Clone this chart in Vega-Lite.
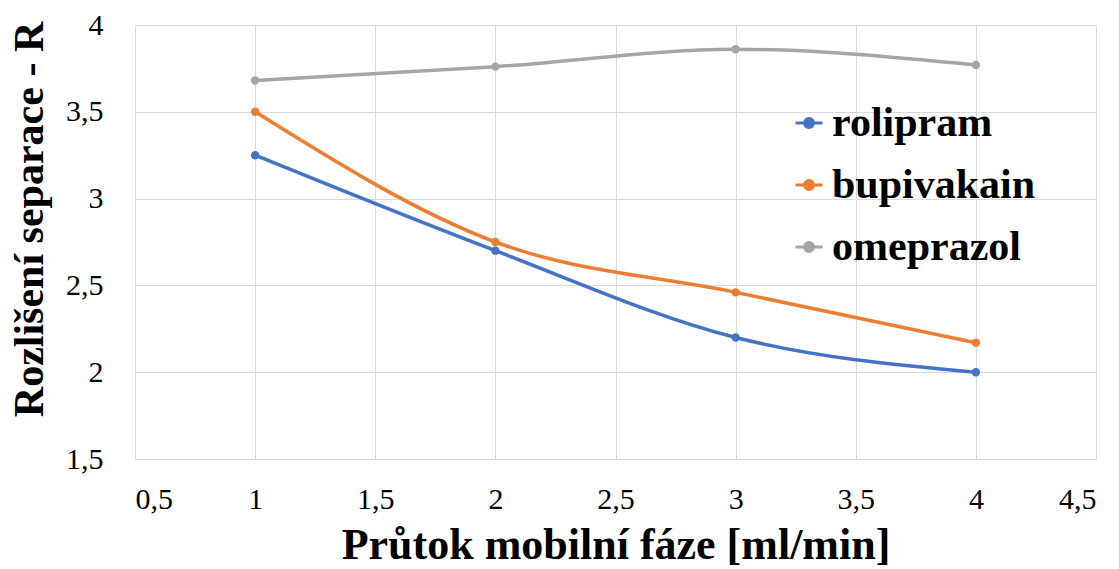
{
  "$schema": "https://vega.github.io/schema/vega-lite/v6.json",
  "autosize": {"type": "none"},
  "padding": {"left": 135, "top": 25, "right": 23, "bottom": 110},
  "width": 961,
  "height": 434,
  "background": "white",
  "config": {
    "view": {"stroke": null},
    "font": "Liberation Serif"
  },
  "data": {
    "values": [
      {"flow": 1, "series": "rolipram", "R": 3.25},
      {"flow": 2, "series": "rolipram", "R": 2.70},
      {"flow": 3, "series": "rolipram", "R": 2.20},
      {"flow": 4, "series": "rolipram", "R": 2.00},
      {"flow": 1, "series": "bupivakain", "R": 3.50},
      {"flow": 2, "series": "bupivakain", "R": 2.75},
      {"flow": 3, "series": "bupivakain", "R": 2.46},
      {"flow": 4, "series": "bupivakain", "R": 2.17},
      {"flow": 1, "series": "omeprazol", "R": 3.68},
      {"flow": 2, "series": "omeprazol", "R": 3.76},
      {"flow": 3, "series": "omeprazol", "R": 3.86},
      {"flow": 4, "series": "omeprazol", "R": 3.77}
    ]
  },
  "encoding": {
    "x": {
      "field": "flow", "type": "quantitative",
      "scale": {"domain": [0.5, 4.5], "nice": false, "zero": false},
      "axis": {
        "values": [0.5, 1, 1.5, 2, 2.5, 3, 3.5, 4, 4.5],
        "labelExpr": "replace(format(datum.value, '.1~f'), '.', ',')",
        "title": "Průtok mobilní fáze [ml/min]",
        "titleFont": "Liberation Serif", "titleFontSize": 44, "titleFontWeight": "bold", "titleColor": "black",
        "labelFont": "Liberation Serif", "labelFontSize": 30, "labelColor": "black",
        "labelPadding": 25, "titlePadding": 9,
        "ticks": false, "domain": false,
        "grid": true, "gridColor": "#d9d9d9", "gridWidth": 1
      }
    },
    "y": {
      "field": "R", "type": "quantitative",
      "scale": {"domain": [1.5, 4], "nice": false, "zero": false},
      "axis": {
        "values": [1.5, 2, 2.5, 3, 3.5, 4],
        "labelExpr": "replace(format(datum.value, '.1~f'), '.', ',')",
        "title": "Rozlišení separace - R",
        "titleFont": "Liberation Serif", "titleFontSize": 42, "titleFontWeight": "bold", "titleColor": "black",
        "labelFont": "Liberation Serif", "labelFontSize": 30, "labelColor": "black",
        "labelPadding": 32, "titlePadding": 14, "titleY": 194,
        "ticks": false, "domain": false,
        "grid": true, "gridColor": "#d9d9d9", "gridWidth": 1
      }
    },
    "color": {
      "field": "series", "type": "nominal",
      "scale": {"domain": ["rolipram", "bupivakain", "omeprazol"], "range": ["#4472C4", "#ED7D31", "#A5A5A5"]},
      "legend": {
        "title": null,
        "orient": "none",
        "legendX": 653,
        "legendY": 77,
        "symbolType": "M-1,0L1,0M-0.33,0A0.33,0.33 0 1,1 0.33,0A0.33,0.33 0 1,1 -0.33,0",
        "symbolSize": 729,
        "symbolStrokeWidth": 3,
        "labelFont": "Liberation Serif",
        "labelFontSize": 42,
        "labelFontWeight": "bold",
        "labelColor": "black",
        "labelLimit": 500,
        "labelOffset": 2,
        "rowPadding": 20,
        "encode": {
          "symbols": {"update": {"fill": {"scale": "color", "field": "value"}}}
        }
      }
    }
  },
  "layer": [
    {
      "mark": {"type": "line", "interpolate": "monotone", "strokeWidth": 3.5}
    },
    {
      "mark": {"type": "point", "filled": true, "opacity": 1, "size": 70, "shape": "circle"}
    }
  ]
}
